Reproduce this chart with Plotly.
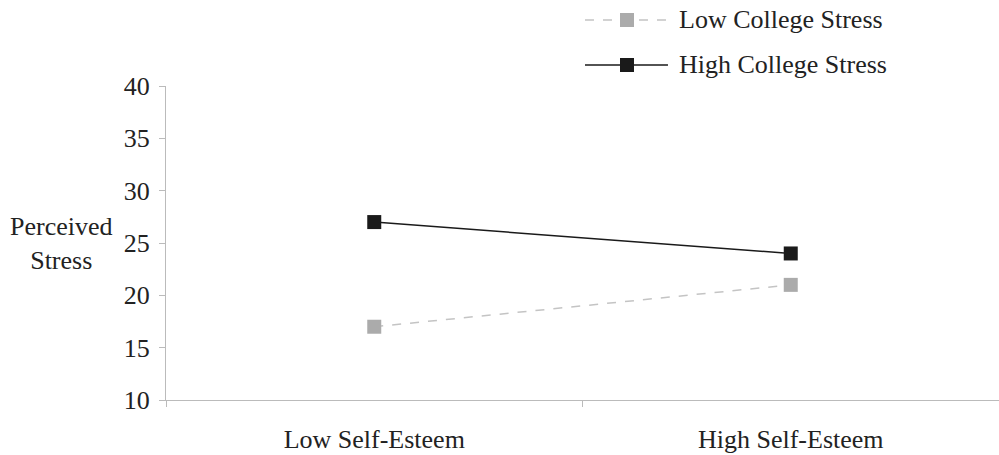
import plotly.graph_objects as go

categories = ["Low Self-Esteem", "High Self-Esteem"]
low_college_stress = [17, 21]
high_college_stress = [27, 24]
y_ticks = [10, 15, 20, 25, 30, 35, 40]
series_names = ["Low College Stress", "High College Stress"]

FONT = "Liberation Serif, Times New Roman, serif"
FS = 26
LOW_LINE, LOW_MARK = "#c4c4c4", "#ababab"
HIGH_LINE, HIGH_MARK = "#1a1a1a", "#1a1a1a"

fig = go.Figure()
fig.add_trace(go.Scatter(
    x=categories, y=low_college_stress, name=series_names[0],
    mode="lines+markers", showlegend=False,
    line=dict(color=LOW_LINE, width=1.5, dash="dash"),
    marker=dict(symbol="square", size=14, color=LOW_MARK),
))
fig.add_trace(go.Scatter(
    x=categories, y=high_college_stress, name=series_names[1],
    mode="lines+markers", showlegend=False,
    line=dict(color=HIGH_LINE, width=1.5),
    marker=dict(symbol="square", size=14, color=HIGH_MARK),
))

fig.update_layout(
    width=999, height=455,
    margin=dict(l=166, r=0, t=86, b=55),
    paper_bgcolor="white", plot_bgcolor="white",
    font=dict(family=FONT, size=FS, color="#222"),
    showlegend=False,
    xaxis=dict(type="category", range=[-0.5, 1.5], showgrid=False, automargin=False,
               showline=True, linecolor="#bbbbbb", linewidth=1,
               ticks="outside", tickson="boundaries", ticklen=6, tickcolor="#bbbbbb",
               ticklabelstandoff=16, zeroline=False),
    yaxis=dict(range=[10, 40], tickvals=y_ticks, showgrid=False, automargin=False,
               showline=True, linecolor="#bbbbbb", linewidth=1,
               ticks="outside", ticklen=6, tickcolor="#bbbbbb",
               ticklabelstandoff=4, zeroline=False),
)

fig.add_annotation(text="Perceived<br>Stress", xref="paper", yref="y",
                   x=0, y=25, xanchor="center", yanchor="middle", xshift=-105,
                   showarrow=False, font=dict(family=FONT, size=FS, color="#222"))

# manual legend (paper coordinates above the plot area)
legend_rows = [
    (series_names[0], 1.2102, LOW_LINE, LOW_MARK, "dash"),
    (series_names[1], 1.0669, HIGH_LINE, HIGH_MARK, "solid"),
]
for name, ly, lc, mc, dash in legend_rows:
    fig.add_shape(type="line", xref="paper", yref="paper",
                  x0=0.5030, x1=0.6026, y0=ly, y1=ly,
                  line=dict(color=lc, width=1.5, dash=dash))
    fig.add_shape(type="rect", xref="paper", yref="paper",
                  xsizemode="pixel", ysizemode="pixel",
                  xanchor=0.5534, yanchor=ly, x0=-7, x1=7, y0=-7, y1=7,
                  fillcolor=mc, line=dict(width=0))
    fig.add_annotation(text=name, xref="paper", yref="paper",
                       x=0.6134, y=ly, xanchor="left", yanchor="middle",
                       showarrow=False, font=dict(family=FONT, size=FS, color="#222"))

fig.write_html("out.html", config={"displayModeBar": False},
               post_script="document.body.style.margin='0';document.body.style.overflow='hidden';")
